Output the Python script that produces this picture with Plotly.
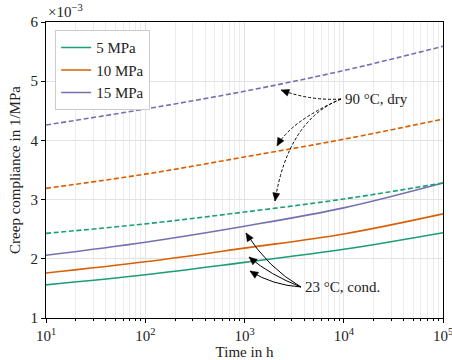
import plotly.graph_objects as go

# ---- data (compliance in 1e-3 1/MPa) ----
time_h = [1e1, 1e2, 1e3, 1e4, 1e5]
labels = ["5 MPa", "10 MPa", "15 MPa"]
colors = ["#1b9e77", "#d95f02", "#7570b3"]
cond_23 = [
    [1.56, 1.73, 1.94, 2.16, 2.44],
    [1.76, 1.95, 2.18, 2.42, 2.76],
    [2.06, 2.28, 2.55, 2.86, 3.28],
]
dry_90 = [
    [2.43, 2.59, 2.79, 3.01, 3.28],
    [3.19, 3.43, 3.72, 4.02, 4.36],
    [4.26, 4.53, 4.83, 5.18, 5.59],
]
xtick_vals = [1e1, 1e2, 1e3, 1e4, 1e5]
xtick_text = ["10<sup>1</sup>", "10<sup>2</sup>", "10<sup>3</sup>", "10<sup>4</sup>", "10<sup>5</sup>"]
ytick_vals = [1, 2, 3, 4, 5, 6]

FONT = "Liberation Serif"
W, H = 452, 360
L, R, T, B = 46, 443, 22, 318

fig = go.Figure()
for i in range(3):
    fig.add_trace(go.Scatter(x=time_h, y=cond_23[i], mode="lines", name=labels[i],
                             line=dict(color=colors[i], width=1.6, shape="spline"),
                             legendgroup=labels[i]))
for i in range(3):
    fig.add_trace(go.Scatter(x=time_h, y=dry_90[i], mode="lines", name=labels[i],
                             line=dict(color=colors[i], width=1.6, shape="spline", dash="5px,2.6px"),
                             legendgroup=labels[i], showlegend=False))

def px(x):
    return (x - L) / (R - L)

def py(y):
    return (B - y) / (B - T)

shapes = []
def arrow(p0, c, p2, dash):
    path = f"M {px(p0[0])},{py(p0[1])} Q {px(c[0])},{py(c[1])} {px(p2[0])},{py(p2[1])}"
    shapes.append(dict(type="path", path=path, xref="paper", yref="paper",
                       line=dict(color="black", width=1, dash=dash)))
    dx, dy = p2[0] - c[0], p2[1] - c[1]
    n = (dx * dx + dy * dy) ** 0.5
    ux, uy = dx / n, dy / n
    hl, hw = 8, 3.5
    bx, by = p2[0] - hl * ux, p2[1] - hl * uy
    a = (bx - hw * uy, by + hw * ux)
    b = (bx + hw * uy, by - hw * ux)
    tri = f"M {px(p2[0])},{py(p2[1])} L {px(a[0])},{py(a[1])} L {px(b[0])},{py(b[1])} Z"
    shapes.append(dict(type="path", path=tri, xref="paper", yref="paper",
                       line=dict(color="black", width=0.5), fillcolor="black"))

o1 = (341, 99)
arrow(o1, (311, 101), (281, 90), "3px,2px")
arrow(o1, (291, 121), (277, 146), "3px,2px")
arrow(o1, (288, 120), (275, 201), "3px,2px")
o2 = (301, 287)
arrow(o2, (268, 268), (246, 233), "solid")
arrow(o2, (270, 275), (249, 257), "solid")
arrow(o2, (272, 285), (250, 271), "solid")

annotations = [
    dict(text="×10<sup>−3</sup>", x=0, y=1, xref="paper", yref="paper",
         xanchor="left", yanchor="bottom", showarrow=False,
         font=dict(family=FONT, size=15, color="#222")),
    dict(text="90 °C, dry", x=px(343), y=py(99), xref="paper", yref="paper",
         xanchor="left", yanchor="middle", showarrow=False,
         font=dict(family=FONT, size=15, color="#222")),
    dict(text="23 °C, cond.", x=px(303), y=py(287), xref="paper", yref="paper",
         xanchor="left", yanchor="middle", showarrow=False,
         font=dict(family=FONT, size=15, color="#222")),
]

fig.update_layout(
    width=W, height=H,
    margin=dict(l=L, r=W - R, t=T, b=H - B, autoexpand=False),
    paper_bgcolor="white", plot_bgcolor="white",
    font=dict(family=FONT, size=15, color="#222"),
    shapes=shapes, annotations=annotations,
    legend=dict(x=0.023, y=0.972, xanchor="left", yanchor="top",
                bgcolor="white", bordercolor="#cccccc", borderwidth=1,
                font=dict(family=FONT, size=15), tracegroupgap=0),
    xaxis=dict(type="log", range=[1, 5], tickmode="array", automargin=False,
               tickvals=xtick_vals, ticktext=xtick_text, ticklabeloverflow="allow",
               showline=True, linecolor="black", linewidth=1, mirror=True,
               ticks="outside", ticklen=4, tickcolor="black",
               showgrid=True, gridcolor="#e3e3e3", gridwidth=1,
               minor=dict(dtick="D1", ticks="outside", ticklen=2, tickcolor="black",
                          showgrid=True, gridcolor="#ececec", gridwidth=1),
               title=dict(text="Time in h", standoff=2,
                          font=dict(family=FONT, size=15)),
               zeroline=False),
    yaxis=dict(range=[1, 6], tickvals=ytick_vals, automargin=False,
               showline=True, linecolor="black", linewidth=1, mirror=True,
               ticks="outside", ticklen=4, tickcolor="black",
               showgrid=True, gridcolor="#e3e3e3", gridwidth=1,
               title=dict(text="Creep compliance in 1/MPa", standoff=6,
                          font=dict(family=FONT, size=15)),
               zeroline=False),
)

fig.write_html("out.html")
